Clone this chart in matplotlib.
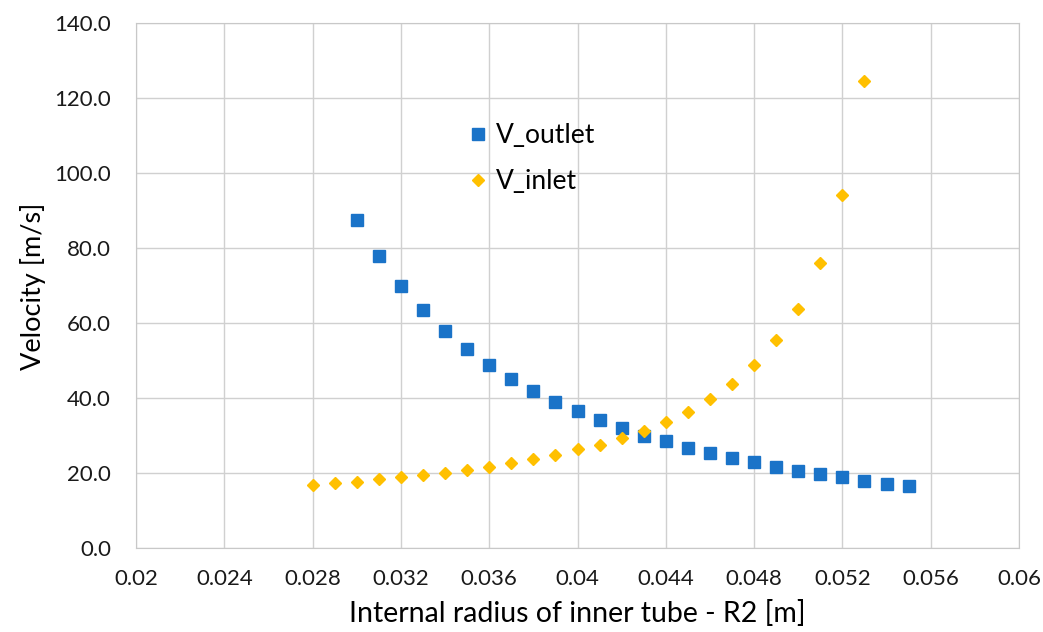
import numpy as np
import matplotlib.pyplot as plt

# radius values [m]
r_outlet = [0.030, 0.031, 0.032, 0.033, 0.034, 0.035, 0.036, 0.037, 0.038, 0.039,
            0.040, 0.041, 0.042, 0.043, 0.044, 0.045, 0.046, 0.047, 0.048, 0.049,
            0.050, 0.051, 0.052, 0.053, 0.054, 0.055]
v_outlet = [87.5, 77.9, 69.9, 63.5, 57.9, 53.1, 48.9, 45.1, 42.0, 39.1,
            36.5, 34.3, 32.0, 30.0, 28.6, 26.8, 25.4, 24.1, 22.9, 21.8,
            20.7, 19.7, 18.9, 18.0, 17.2, 16.5]

r_inlet = [0.028, 0.029, 0.030, 0.031, 0.032, 0.033, 0.034, 0.035, 0.036, 0.037,
           0.038, 0.039, 0.040, 0.041, 0.042, 0.043, 0.044, 0.045, 0.046, 0.047,
           0.048, 0.049, 0.050, 0.051, 0.052, 0.053]
v_inlet = [16.9, 17.3, 17.7, 18.4, 18.9, 19.5, 20.2, 20.9, 21.8, 22.7,
           23.8, 25.0, 26.4, 27.6, 29.5, 31.4, 33.8, 36.4, 39.7, 43.8,
           48.9, 55.5, 63.7, 76.0, 94.1, 124.6]

x_ticks = [0.02, 0.024, 0.028, 0.032, 0.036, 0.04, 0.044, 0.048, 0.052, 0.056, 0.06]
x_tick_labels = ['0.02', '0.024', '0.028', '0.032', '0.036', '0.04', '0.044',
                 '0.048', '0.052', '0.056', '0.06']

plt.rcParams['font.family'] = ['Lato', 'DejaVu Sans']

fig = plt.figure(figsize=(10.43, 6.32), dpi=100)
ax = fig.add_axes([0.1304, 0.1324, 0.8466, 0.8307])

ax.plot(r_outlet, v_outlet, linestyle='none', marker='s', markersize=8.5,
        color='#1a73c8', label='V_outlet')
ax.plot(r_inlet, v_inlet, linestyle='none', marker='D', markersize=6.5,
        color='#ffc000', label='V_inlet')

ax.set_xlim(0.02, 0.06)
ax.set_ylim(0, 140)
ax.set_xticks(x_ticks)
ax.set_xticklabels(x_tick_labels)
ax.set_yticks(np.arange(0, 141, 20))
ax.set_yticklabels([f'{v:.1f}' for v in np.arange(0, 141, 20)])

ax.grid(True, color='#d0d0d0', linewidth=1)
ax.set_axisbelow(True)
for s in ax.spines.values():
    s.set_color('#c8c8c8')
ax.tick_params(length=0, labelsize=16, colors='#1a1a1a')
ax.tick_params(axis='y', pad=18)
ax.tick_params(axis='x', pad=15)

ax.set_xlabel('Internal radius of inner tube - R2 [m]', fontsize=20.5, labelpad=8)
ax.set_ylabel('Velocity [m/s]', fontsize=19.5, labelpad=6)

ax.legend(loc='upper left', bbox_to_anchor=(0.342, 0.855), frameon=False,
          fontsize=19, handletextpad=0.1, labelspacing=0.8, handlelength=1.2)

plt.savefig('out.png')
